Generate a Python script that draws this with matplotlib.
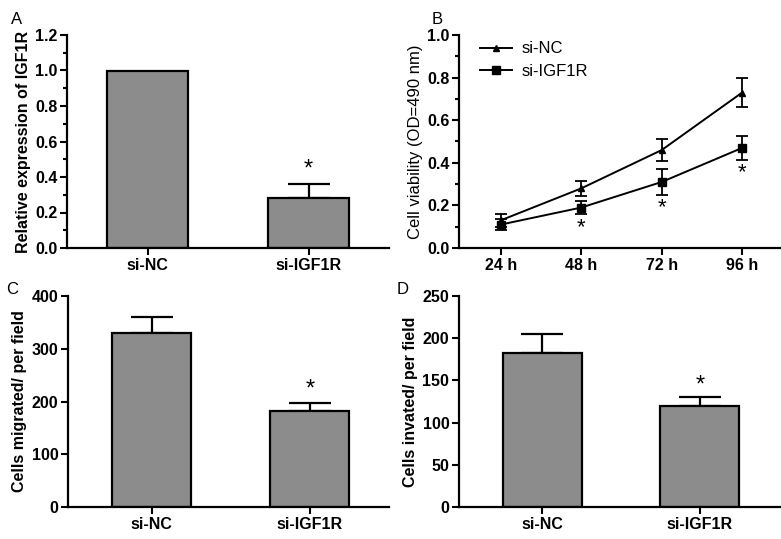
import matplotlib
matplotlib.use('Agg')
import matplotlib.pyplot as plt
from matplotlib.ticker import MultipleLocator
from matplotlib.lines import Line2D
import numpy as np

plt.rcParams['font.family'] = ['Liberation Sans', 'DejaVu Sans']

groups = ['si-NC', 'si-IGF1R']

# panel A
expr_mean = [1.0, 0.28]
expr_err = [0.0, 0.08]
expr_star = 0.44

# panel B
hours = ['24 h', '48 h', '72 h', '96 h']
nc_via = [0.13, 0.28, 0.46, 0.73]
nc_via_err = [0.03, 0.035, 0.05, 0.07]
kd_via = [0.11, 0.19, 0.31, 0.47]
kd_via_err = [0.025, 0.03, 0.06, 0.055]
via_star_idx = [1, 2, 3]
via_star_y = [0.095, 0.19, 0.355]

# panel C
mig_mean = [330, 182]
mig_err = [30, 15]
mig_star = 222

# panel D
inv_mean = [183, 120]
inv_err = [22, 10]
inv_star = 144

W, H = 781, 539
fig = plt.figure(figsize=(W / 100, H / 100), dpi=100)


def box(l, r, t, b):
    return [l / W, 1 - b / H, (r - l) / W, (b - t) / H]


gray = '#8c8c8c'
tick_fs = 11.5


def style(ax):
    for s in ['top', 'right']:
        ax.spines[s].set_visible(False)
    for s in ['left', 'bottom']:
        ax.spines[s].set_linewidth(1.6)
    ax.tick_params(axis='both', which='major', direction='out', length=5, width=1.5,
                   labelsize=tick_fs, pad=2)
    ax.tick_params(axis='both', which='minor', direction='out', length=3, width=1.5)
    for lab in ax.get_xticklabels() + ax.get_yticklabels():
        lab.set_fontweight('bold')


def bar_panel(ax, means, errs, star, ylim, ystep, ylabel, xlim, minor=None):
    x = np.arange(len(groups))
    ax.bar(x, means, width=0.5, color=gray, edgecolor='black', linewidth=1.6, zorder=2)
    for xi, m, e in zip(x, means, errs):
        if e > 0:
            ax.errorbar(xi, m, yerr=[[0], [e]], fmt='none', ecolor='black',
                        elinewidth=1.6, capsize=15, capthick=1.6, zorder=1)
    ax.text(x[1], star, '*', ha='center', va='center', fontsize=17)
    ax.set_xlim(*xlim)
    ax.set_ylim(*ylim)
    ax.yaxis.set_major_locator(MultipleLocator(ystep))
    if minor:
        ax.yaxis.set_minor_locator(MultipleLocator(minor))
    ax.set_xticks(x)
    ax.set_xticklabels(groups)
    ax.set_ylabel(ylabel, fontsize=11.5, fontweight='bold', labelpad=3)
    style(ax)


# A
axA = fig.add_axes(box(67, 389, 35, 248))
bar_panel(axA, expr_mean, expr_err, expr_star, (0, 1.2), 0.2,
          'Relative expression of IGF1R', (-0.5, 1.5), minor=0.1)
axA.yaxis.set_major_formatter(plt.FormatStrFormatter('%.1f'))
for lab in axA.get_yticklabels():
    lab.set_fontweight('bold')

# B
axB = fig.add_axes(box(459, 780, 35, 248))
xb = np.arange(1, len(hours) + 1)
axB.errorbar(xb, nc_via, yerr=nc_via_err, color='black', marker='^', markersize=5,
             linewidth=1.4, elinewidth=1.3, capsize=4, capthick=1.3)
axB.errorbar(xb, kd_via, yerr=kd_via_err, color='black', marker='s', markersize=6,
             linewidth=1.4, elinewidth=1.3, capsize=4, capthick=1.3)
for i, y in zip(via_star_idx, via_star_y):
    axB.text(xb[i], y, '*', ha='center', va='center', fontsize=16)
axB.set_xlim(0.48, 4.47)
axB.set_ylim(0, 1.0)
axB.yaxis.set_major_locator(MultipleLocator(0.2))
axB.yaxis.set_minor_locator(MultipleLocator(0.1))
axB.yaxis.set_major_formatter(plt.FormatStrFormatter('%.1f'))
axB.set_xticks(xb)
axB.set_xticklabels(hours)
axB.set_ylabel('Cell viability (OD=490 nm)', fontsize=12, labelpad=3)
style(axB)
handles = [Line2D([], [], color='black', marker='^', markersize=5, linewidth=1.4),
           Line2D([], [], color='black', marker='s', markersize=6, linewidth=1.4)]
axB.legend(handles, ['si-NC', 'si-IGF1R'], loc='upper left',
           bbox_to_anchor=(0.02, 1.04), frameon=False,
           fontsize=12, handlelength=1.9, handletextpad=0.6, labelspacing=0.45)

# C
axC = fig.add_axes(box(68, 389, 296, 507))
bar_panel(axC, mig_mean, mig_err, mig_star, (0, 400), 100,
          'Cells migrated/ per field', (-0.53, 1.5))

# D
axD = fig.add_axes(box(459, 780, 296, 507))
bar_panel(axD, inv_mean, inv_err, inv_star, (0, 250), 50,
          'Cells invated/ per field', (-0.53, 1.51))

for letter, (px, py) in zip('ABCD', [(17, 19), (437, 19), (12, 290), (403, 290)]):
    fig.text(px / W, 1 - py / H, letter, ha='center', va='center', fontsize=12)

fig.savefig('out.png', dpi=100)
